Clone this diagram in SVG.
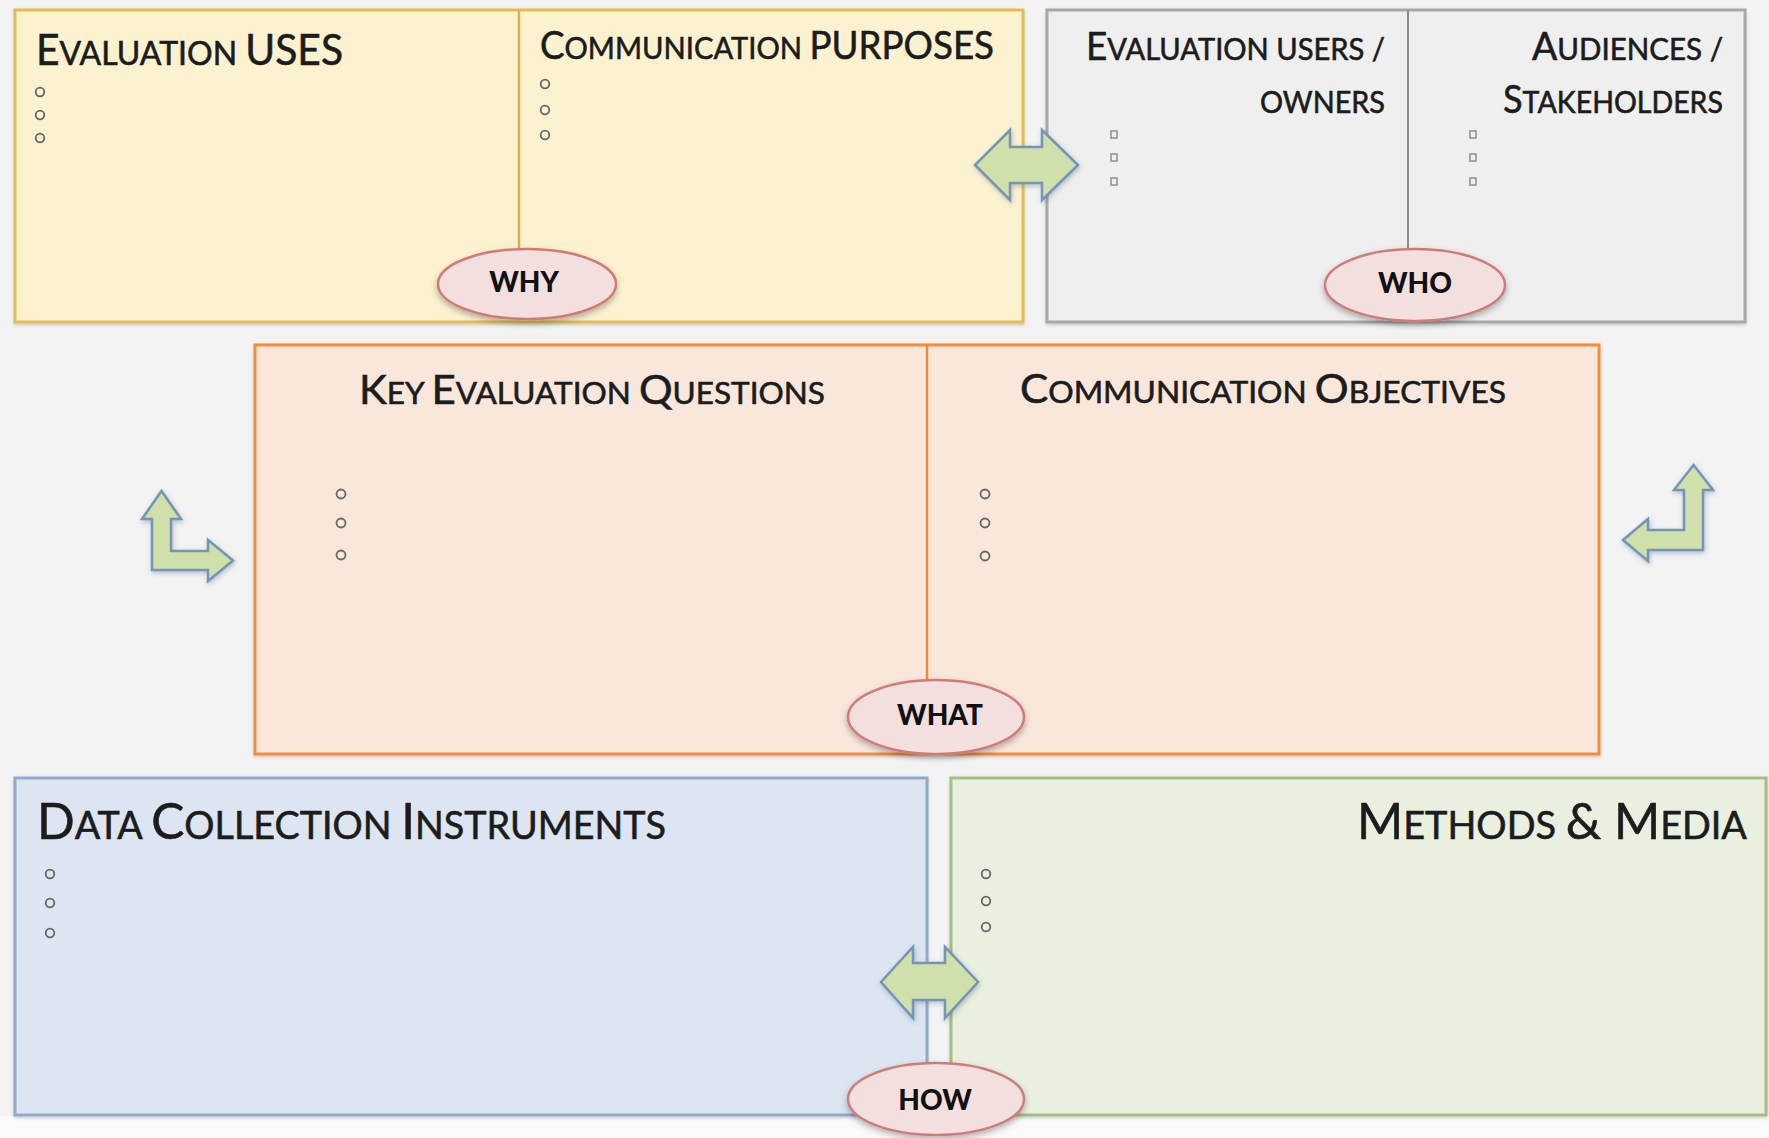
<svg xmlns="http://www.w3.org/2000/svg" width="1769" height="1138" viewBox="0 0 1769 1138">
  <defs>
    <filter id="softShadow" x="-20%" y="-20%" width="140%" height="150%">
      <feDropShadow dx="0" dy="3" stdDeviation="3" flood-color="#000" flood-opacity="0.3"/>
    </filter>
    <filter id="arrowShadow" x="-30%" y="-30%" width="160%" height="160%">
      <feDropShadow dx="1" dy="2" stdDeviation="2.5" flood-color="#3c5a78" flood-opacity="0.35"/>
    </filter>
    <filter id="boxShadow" x="-5%" y="-5%" width="110%" height="110%">
      <feDropShadow dx="0" dy="1.5" stdDeviation="1.5" flood-color="#000" flood-opacity="0.18"/>
    </filter>
  </defs>
  <style>
    .title { font-family: Lato, "Open Sans", "Liberation Sans", sans-serif; fill: #1c1c1c; stroke: #1c1c1c; stroke-width: 0.6; }
    .end { text-anchor: end; }
    .tag { font-family: Lato, "Liberation Sans", sans-serif; font-weight: 900; font-size: 28px; fill: #111; text-anchor: middle; }
    .oval { fill: #f3dfde; stroke: #cc7d79; stroke-width: 2.5; filter: url(#softShadow); }
    .arrow { fill: #d0e0aa; stroke: #7495b6; stroke-width: 2.5; stroke-linejoin: miter; filter: url(#arrowShadow); }
    .bullet { fill: none; stroke: #666; stroke-width: 1.8; }
    .sq { fill: none; stroke: #888; stroke-width: 1.4; }
  </style>

  <!-- canvas -->
  <rect x="0" y="0" width="1769" height="1138" fill="#f3f3f4"/>
  <rect x="0" y="1116" width="1769" height="22" fill="#fafafa"/>

  <!-- WHY: uses and purposes -->
  <g id="why-box">
    <rect x="15" y="10" width="1008" height="312" fill="#fdf2d0" stroke="#e0bd55" stroke-width="3" filter="url(#boxShadow)"/>
    <line x1="519" y1="10" x2="519" y2="252" stroke="#d5b04c" stroke-width="2.5"/>
    <text class="title" x="36" y="65" textLength="307" lengthAdjust="spacingAndGlyphs"><tspan font-size="42">E</tspan><tspan font-size="33">VALUATION </tspan><tspan font-size="42">USES</tspan></text>
    <text class="title" x="540" y="59" textLength="454" lengthAdjust="spacingAndGlyphs"><tspan font-size="39">C</tspan><tspan font-size="31">OMMUNICATION </tspan><tspan font-size="39">PURPOSES</tspan></text>
    <circle class="bullet" cx="40" cy="92" r="4.3"/>
    <circle class="bullet" cx="40" cy="115" r="4.3"/>
    <circle class="bullet" cx="40" cy="138" r="4.3"/>
    <circle class="bullet" cx="545" cy="84" r="4.3"/>
    <circle class="bullet" cx="545" cy="110" r="4.3"/>
    <circle class="bullet" cx="545" cy="135" r="4.3"/>
  </g>
  <g id="why-tag">
    <ellipse class="oval" cx="527" cy="284" rx="89" ry="35"/>
    <text class="tag" x="524" y="292">WHY</text>
  </g>

  <!-- WHO: users and audiences -->
  <g id="who-box">
    <rect x="1047" y="10" width="698" height="312" fill="#efefef" stroke="#a8a8a8" stroke-width="3" filter="url(#boxShadow)"/>
    <line x1="1408" y1="10" x2="1408" y2="250" stroke="#8d8d8d" stroke-width="2"/>
    <text class="title end" x="1385" y="60" textLength="299" lengthAdjust="spacingAndGlyphs"><tspan font-size="38">E</tspan><tspan font-size="30">VALUATION USERS /</tspan></text>
    <text class="title end" x="1385" y="113" textLength="125" lengthAdjust="spacingAndGlyphs"><tspan font-size="30">OWNERS</tspan></text>
    <text class="title end" x="1723" y="60" textLength="191" lengthAdjust="spacingAndGlyphs"><tspan font-size="38">A</tspan><tspan font-size="30">UDIENCES /</tspan></text>
    <text class="title end" x="1723" y="113" textLength="220" lengthAdjust="spacingAndGlyphs"><tspan font-size="38">S</tspan><tspan font-size="30">TAKEHOLDERS</tspan></text>
    <rect class="sq" x="1111" y="131" width="6" height="7"/>
    <rect class="sq" x="1111" y="154" width="6" height="7"/>
    <rect class="sq" x="1111" y="178" width="6" height="7"/>
    <rect class="sq" x="1470" y="131" width="6" height="7"/>
    <rect class="sq" x="1470" y="154" width="6" height="7"/>
    <rect class="sq" x="1470" y="178" width="6" height="7"/>
  </g>
  <g id="who-tag">
    <ellipse class="oval" cx="1415" cy="285" rx="90" ry="36"/>
    <text class="tag" x="1415" y="293">WHO</text>
  </g>

  <!-- WHAT: questions and objectives -->
  <g id="what-box">
    <rect x="255" y="345" width="1344" height="409" fill="#fae7dc" stroke="#f38c3e" stroke-width="3" filter="url(#boxShadow)"/>
    <line x1="927" y1="345" x2="927" y2="684" stroke="#ef8a3c" stroke-width="2.5"/>
    <text class="title" x="359" y="404" textLength="466" lengthAdjust="spacingAndGlyphs"><tspan font-size="40">K</tspan><tspan font-size="30">EY </tspan><tspan font-size="40">E</tspan><tspan font-size="30">VALUATION </tspan><tspan font-size="40">Q</tspan><tspan font-size="30">UESTIONS</tspan></text>
    <text class="title" x="1020" y="403" textLength="486" lengthAdjust="spacingAndGlyphs"><tspan font-size="40">C</tspan><tspan font-size="30">OMMUNICATION </tspan><tspan font-size="40">O</tspan><tspan font-size="30">BJECTIVES</tspan></text>
    <circle class="bullet" cx="341" cy="494" r="4.5"/>
    <circle class="bullet" cx="341" cy="523" r="4.5"/>
    <circle class="bullet" cx="341" cy="555" r="4.5"/>
    <circle class="bullet" cx="985" cy="494" r="4.5"/>
    <circle class="bullet" cx="985" cy="523" r="4.5"/>
    <circle class="bullet" cx="985" cy="556" r="4.5"/>
  </g>
  <g id="what-tag">
    <ellipse class="oval" cx="936" cy="717" rx="88" ry="37"/>
    <text class="tag" x="940" y="725">WHAT</text>
  </g>

  <!-- HOW: instruments -->
  <g id="how-instruments">
    <rect x="15" y="778" width="912" height="337" fill="#dce5f1" stroke="#8faacd" stroke-width="3" filter="url(#boxShadow)"/>
    <text class="title" x="37" y="839" textLength="629" lengthAdjust="spacingAndGlyphs"><tspan font-size="50">D</tspan><tspan font-size="38">ATA </tspan><tspan font-size="50">C</tspan><tspan font-size="38">OLLECTION </tspan><tspan font-size="50">I</tspan><tspan font-size="38">NSTRUMENTS</tspan></text>
    <circle class="bullet" cx="50" cy="874" r="4.3"/>
    <circle class="bullet" cx="50" cy="903" r="4.3"/>
    <circle class="bullet" cx="50" cy="933" r="4.3"/>
  </g>

  <!-- HOW: methods and media -->
  <g id="how-methods">
    <rect x="951" y="778" width="815" height="337" fill="#e9f0e0" stroke="#a6bd86" stroke-width="3" filter="url(#boxShadow)"/>
    <text class="title end" x="1747" y="839" textLength="390" lengthAdjust="spacingAndGlyphs"><tspan font-size="50">M</tspan><tspan font-size="38">ETHODS </tspan><tspan font-size="50">&amp; M</tspan><tspan font-size="38">EDIA</tspan></text>
    <circle class="bullet" cx="986" cy="874" r="4.3"/>
    <circle class="bullet" cx="986" cy="901" r="4.3"/>
    <circle class="bullet" cx="986" cy="927" r="4.3"/>
  </g>
  <g id="how-tag">
    <ellipse class="oval" cx="936" cy="1099" rx="88" ry="36"/>
    <text class="tag" x="935" y="1110">HOW</text>
  </g>

  <!-- connectors -->
  <g id="connectors">
    <polygon class="arrow" points="975,165 1010,130 1010,147 1042,147 1042,130 1078,165 1042,200 1042,183 1010,183 1010,200"/>
    <polygon class="arrow" points="161.5,491 181,519 171,519 171,551 208,551 208,540 233,560.5 208,581 208,570 152,570 152,519 142,519"/>
    <polygon class="arrow" points="1693.5,465 1713,490 1703,490 1703,550 1648,550 1648,561 1623,540 1648,519 1648,530 1684,530 1684,490 1674,490"/>
    <polygon class="arrow" points="881,982 913,947 913,963 945,963 945,947 978,982 945,1018 945,1000 913,1000 913,1018"/>
  </g>
</svg>
